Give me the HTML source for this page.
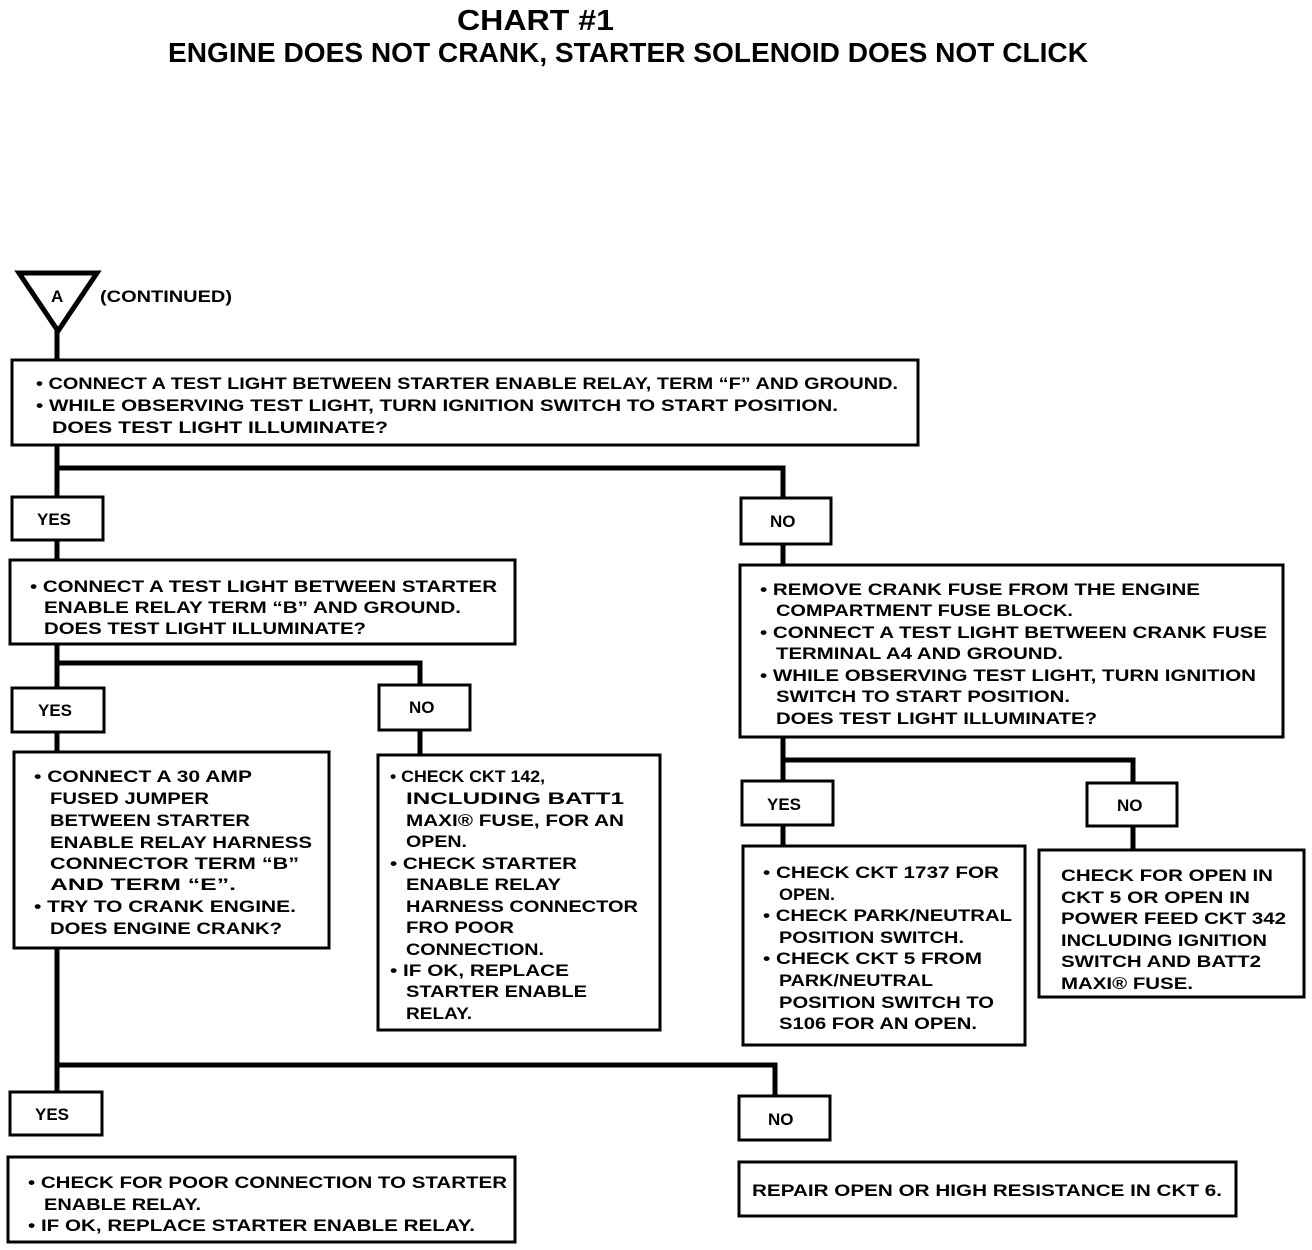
<!DOCTYPE html>
<html><head><meta charset="utf-8">
<style>
html,body{margin:0;padding:0;background:#fff;}
svg{display:block;}
text{font-family:"Liberation Sans",Arial,sans-serif;font-weight:bold;fill:#000;}
.t{font-size:17px;}
.b{fill:#fff;stroke:#000;stroke-width:3;}
.l{stroke:#000;stroke-width:5;fill:none;}
</style></head><body>
<svg width="1312" height="1250" viewBox="0 0 1312 1250" xmlns="http://www.w3.org/2000/svg">
<text x="457" y="30" font-size="29" textLength="157" lengthAdjust="spacingAndGlyphs">CHART #1</text>
<text x="168" y="62" font-size="28" textLength="920" lengthAdjust="spacingAndGlyphs">ENGINE DOES NOT CRANK, STARTER SOLENOID DOES NOT CLICK</text>

<!-- connectors -->
<g class="l">
<path d="M57 330 V360"/>
<path d="M57 445 V497 M57 468 H783 V498"/>
<path d="M57 540 V560"/>
<path d="M57 644 V688 M57 663 H420 V685"/>
<path d="M57 732 V1092 M57 1065 H775 V1096"/>
<path d="M420 730 V755"/>
<path d="M783 544 V565"/>
<path d="M783 737 V781 M783 760 H1133 V783"/>
<path d="M783 825 V846"/>
<path d="M1133 826 V850"/>
</g>

<polygon points="19,273 97,273 58,331" fill="#fff" stroke="#000" stroke-width="5"/>
<text class="t" x="51" y="302">A</text>
<text class="t" x="100" y="302" textLength="132" lengthAdjust="spacingAndGlyphs">(CONTINUED)</text>

<!-- boxes -->
<rect class="b" x="12" y="360" width="906" height="85"/>
<rect class="b" x="12" y="497" width="91" height="43"/>
<rect class="b" x="741" y="498" width="90" height="46"/>
<rect class="b" x="10" y="560" width="505" height="84"/>
<rect class="b" x="12" y="688" width="92" height="44"/>
<rect class="b" x="379" y="685" width="91" height="45"/>
<rect class="b" x="14" y="752" width="315" height="196"/>
<rect class="b" x="378" y="755" width="282" height="275"/>
<rect class="b" x="10" y="1092" width="92" height="43"/>
<rect class="b" x="739" y="1096" width="91" height="44"/>
<rect class="b" x="8" y="1157" width="507" height="85"/>
<rect class="b" x="739" y="1162" width="497" height="54"/>
<rect class="b" x="740" y="565" width="543" height="172"/>
<rect class="b" x="742" y="781" width="91" height="44"/>
<rect class="b" x="1087" y="783" width="90" height="43"/>
<rect class="b" x="743" y="846" width="282" height="199"/>
<rect class="b" x="1039" y="850" width="265" height="147"/>

<!-- labels -->
<text class="t" x="37" y="525">YES</text>
<text class="t" x="770" y="527">NO</text>
<text class="t" x="38" y="716">YES</text>
<text class="t" x="409" y="713">NO</text>
<text class="t" x="35" y="1120">YES</text>
<text class="t" x="768" y="1125">NO</text>
<text class="t" x="767" y="810">YES</text>
<text class="t" x="1117" y="811">NO</text>

<g class="t">
<!-- box1 -->
<text x="36" y="389" textLength="862" lengthAdjust="spacingAndGlyphs">• CONNECT A TEST LIGHT BETWEEN STARTER ENABLE RELAY, TERM “F” AND GROUND.</text>
<text x="36" y="411" textLength="802" lengthAdjust="spacingAndGlyphs">• WHILE OBSERVING TEST LIGHT, TURN IGNITION SWITCH TO START POSITION.</text>
<text x="52" y="433" textLength="336" lengthAdjust="spacingAndGlyphs">DOES TEST LIGHT ILLUMINATE?</text>
<!-- box2 -->
<text x="30" y="592" textLength="467" lengthAdjust="spacingAndGlyphs">• CONNECT A TEST LIGHT BETWEEN STARTER</text>
<text x="44" y="613" textLength="417" lengthAdjust="spacingAndGlyphs">ENABLE RELAY TERM “B” AND GROUND.</text>
<text x="44" y="634" textLength="322" lengthAdjust="spacingAndGlyphs">DOES TEST LIGHT ILLUMINATE?</text>
<!-- box3 -->
<text x="34" y="782" textLength="218" lengthAdjust="spacingAndGlyphs">• CONNECT A 30 AMP</text>
<text x="50" y="804" textLength="159" lengthAdjust="spacingAndGlyphs">FUSED JUMPER</text>
<text x="50" y="826" textLength="200" lengthAdjust="spacingAndGlyphs">BETWEEN STARTER</text>
<text x="50" y="848" textLength="262" lengthAdjust="spacingAndGlyphs">ENABLE RELAY HARNESS</text>
<text x="50" y="869" textLength="249" lengthAdjust="spacingAndGlyphs">CONNECTOR TERM “B”</text>
<text x="50" y="890" textLength="186" lengthAdjust="spacingAndGlyphs">AND TERM “E”.</text>
<text x="34" y="912" textLength="262" lengthAdjust="spacingAndGlyphs">• TRY TO CRANK ENGINE.</text>
<text x="50" y="934" textLength="232" lengthAdjust="spacingAndGlyphs">DOES ENGINE CRANK?</text>
<!-- box4 -->
<text x="390" y="782" textLength="155" lengthAdjust="spacingAndGlyphs">• CHECK CKT 142,</text>
<text x="406" y="804" textLength="218" lengthAdjust="spacingAndGlyphs">INCLUDING BATT1</text>
<text x="406" y="826" textLength="218" lengthAdjust="spacingAndGlyphs">MAXI® FUSE, FOR AN</text>
<text x="406" y="847" textLength="61" lengthAdjust="spacingAndGlyphs">OPEN.</text>
<text x="390" y="869" textLength="187" lengthAdjust="spacingAndGlyphs">• CHECK STARTER</text>
<text x="406" y="890" textLength="155" lengthAdjust="spacingAndGlyphs">ENABLE RELAY</text>
<text x="406" y="912" textLength="232" lengthAdjust="spacingAndGlyphs">HARNESS CONNECTOR</text>
<text x="406" y="933" textLength="108" lengthAdjust="spacingAndGlyphs">FRO POOR</text>
<text x="406" y="955" textLength="138" lengthAdjust="spacingAndGlyphs">CONNECTION.</text>
<text x="390" y="976" textLength="179" lengthAdjust="spacingAndGlyphs">• IF OK, REPLACE</text>
<text x="406" y="997" textLength="181" lengthAdjust="spacingAndGlyphs">STARTER ENABLE</text>
<text x="406" y="1019" textLength="66" lengthAdjust="spacingAndGlyphs">RELAY.</text>
<!-- box7 -->
<text x="760" y="595" textLength="440" lengthAdjust="spacingAndGlyphs">• REMOVE CRANK FUSE FROM THE ENGINE</text>
<text x="776" y="616" textLength="297" lengthAdjust="spacingAndGlyphs">COMPARTMENT FUSE BLOCK.</text>
<text x="760" y="638" textLength="507" lengthAdjust="spacingAndGlyphs">• CONNECT A TEST LIGHT BETWEEN CRANK FUSE</text>
<text x="776" y="659" textLength="287" lengthAdjust="spacingAndGlyphs">TERMINAL A4 AND GROUND.</text>
<text x="760" y="681" textLength="496" lengthAdjust="spacingAndGlyphs">• WHILE OBSERVING TEST LIGHT, TURN IGNITION</text>
<text x="776" y="702" textLength="294" lengthAdjust="spacingAndGlyphs">SWITCH TO START POSITION.</text>
<text x="776" y="724" textLength="321" lengthAdjust="spacingAndGlyphs">DOES TEST LIGHT ILLUMINATE?</text>
<!-- box8 -->
<text x="763" y="878" textLength="236" lengthAdjust="spacingAndGlyphs">• CHECK CKT 1737 FOR</text>
<text x="779" y="900" textLength="56" lengthAdjust="spacingAndGlyphs">OPEN.</text>
<text x="763" y="921" textLength="249" lengthAdjust="spacingAndGlyphs">• CHECK PARK/NEUTRAL</text>
<text x="779" y="943" textLength="185" lengthAdjust="spacingAndGlyphs">POSITION SWITCH.</text>
<text x="763" y="964" textLength="219" lengthAdjust="spacingAndGlyphs">• CHECK CKT 5 FROM</text>
<text x="779" y="986" textLength="154" lengthAdjust="spacingAndGlyphs">PARK/NEUTRAL</text>
<text x="779" y="1008" textLength="215" lengthAdjust="spacingAndGlyphs">POSITION SWITCH TO</text>
<text x="779" y="1029" textLength="198" lengthAdjust="spacingAndGlyphs">S106 FOR AN OPEN.</text>
<!-- box9 -->
<text x="1061" y="881" textLength="212" lengthAdjust="spacingAndGlyphs">CHECK FOR OPEN IN</text>
<text x="1061" y="903" textLength="189" lengthAdjust="spacingAndGlyphs">CKT 5 OR OPEN IN</text>
<text x="1061" y="924" textLength="225" lengthAdjust="spacingAndGlyphs">POWER FEED CKT 342</text>
<text x="1061" y="946" textLength="206" lengthAdjust="spacingAndGlyphs">INCLUDING IGNITION</text>
<text x="1061" y="967" textLength="200" lengthAdjust="spacingAndGlyphs">SWITCH AND BATT2</text>
<text x="1061" y="989" textLength="132" lengthAdjust="spacingAndGlyphs">MAXI® FUSE.</text>
<!-- box5 -->
<text x="28" y="1188" textLength="479" lengthAdjust="spacingAndGlyphs">• CHECK FOR POOR CONNECTION TO STARTER</text>
<text x="44" y="1210" textLength="157" lengthAdjust="spacingAndGlyphs">ENABLE RELAY.</text>
<text x="28" y="1231" textLength="447" lengthAdjust="spacingAndGlyphs">• IF OK, REPLACE STARTER ENABLE RELAY.</text>
<!-- box6 -->
<text x="752" y="1196" textLength="470" lengthAdjust="spacingAndGlyphs">REPAIR OPEN OR HIGH RESISTANCE IN CKT 6.</text>
</g>
</svg>
</body></html>
